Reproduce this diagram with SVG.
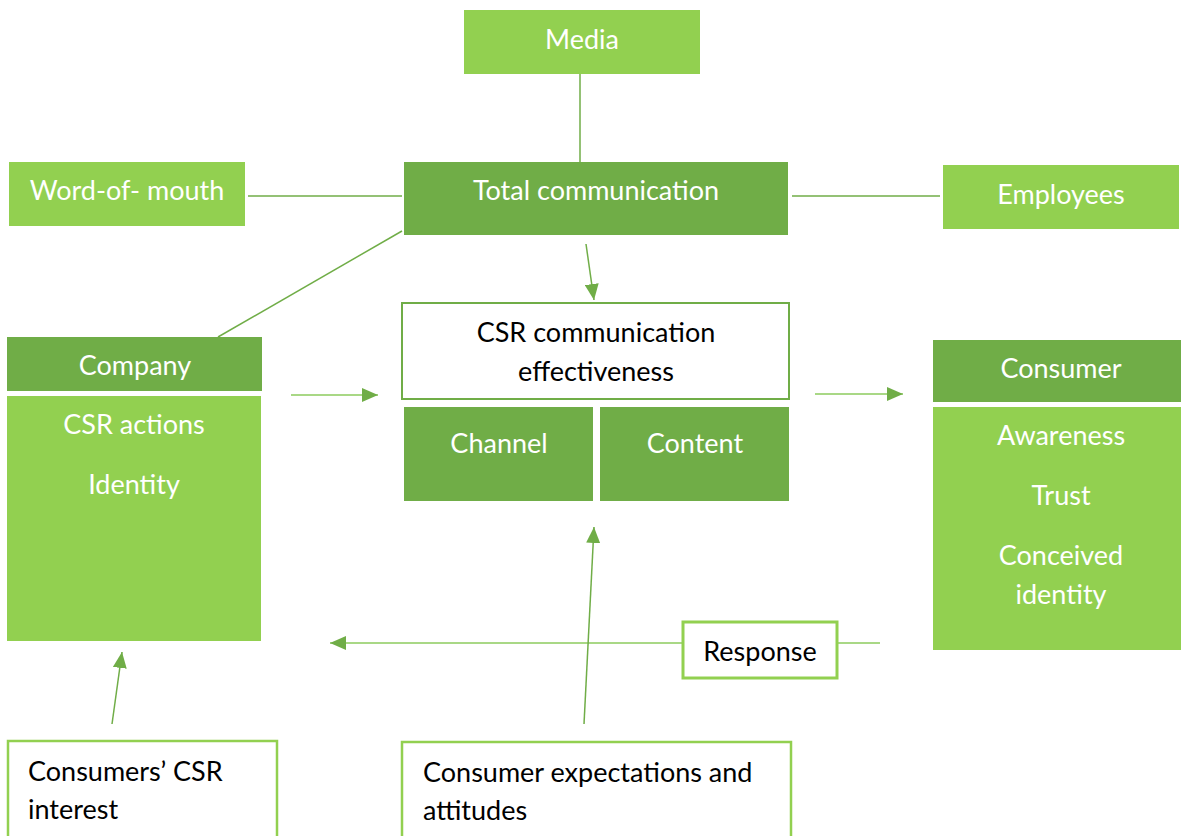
<svg xmlns="http://www.w3.org/2000/svg" width="1181" height="836" viewBox="0 0 1181 836">
  <style>
    .dark { fill: #70AD47; }
    .light { fill: #92D050; }
    .wt { fill: #FFFFFF; font-family: Lato, "Open Sans", sans-serif; font-size: 27px; text-anchor: middle; }
    .bk { fill: #000000; font-family: Lato, "Open Sans", sans-serif; font-size: 27px; }
    .bkc { text-anchor: middle; }
    .line { stroke: #70AD47; stroke-width: 1.5; fill: none; }
    .lline { stroke: #8CCB5E; stroke-width: 1.5; fill: none; }
  </style>
  <defs>
    <marker id="arr" viewBox="0 0 16 14" refX="16" refY="7" markerWidth="16" markerHeight="14" markerUnits="userSpaceOnUse" orient="auto">
      <path d="M0,0 L16,7 L0,14 Z" fill="#70AD47"/>
    </marker>
  </defs>
  <rect width="1181" height="836" fill="#FFFFFF"/>

  <!-- connectors -->
  <g id="connectors">
    <line class="line" x1="580" y1="74" x2="580" y2="162"/>
    <line class="line" x1="248" y1="196" x2="402" y2="196"/>
    <line class="line" x1="792" y1="196" x2="940" y2="196"/>
    <line class="line" x1="402" y1="231" x2="218" y2="337"/>
    <line class="line" x1="586" y1="244" x2="594" y2="300" marker-end="url(#arr)"/>
    <line class="lline" x1="291" y1="395" x2="378" y2="395" marker-end="url(#arr)"/>
    <line class="lline" x1="815" y1="394" x2="903" y2="394" marker-end="url(#arr)"/>
    <line class="lline" x1="880" y1="643" x2="838" y2="643"/>
    <line class="lline" x1="682" y1="643" x2="330" y2="643" marker-end="url(#arr)"/>
    <line class="line" x1="584" y1="724" x2="594" y2="527" marker-end="url(#arr)"/>
    <line class="line" x1="112" y1="724" x2="122" y2="652" marker-end="url(#arr)"/>
  </g>

  <g id="media">
    <rect class="light" x="464" y="10" width="236" height="64"/>
    <text class="wt" x="582" y="49">Media</text>
  </g>

  <g id="word-of-mouth">
    <rect class="light" x="9" y="162" width="236" height="64"/>
    <text class="wt" x="127" y="200">Word-of- mouth</text>
  </g>

  <g id="total-communication">
    <rect class="dark" x="404" y="162" width="384" height="73"/>
    <text class="wt" x="596" y="200">Total communication</text>
  </g>

  <g id="employees">
    <rect class="light" x="943" y="165" width="236" height="64"/>
    <text class="wt" x="1061" y="204">Employees</text>
  </g>

  <g id="csr-effectiveness">
    <rect x="402" y="303" width="387" height="96" fill="#FFFFFF" stroke="#70AD47" stroke-width="2"/>
    <text class="bk bkc" x="596" y="342">CSR communication</text>
    <text class="bk bkc" x="596" y="381">effectiveness</text>
  </g>

  <g id="channel">
    <rect class="dark" x="404" y="407" width="189" height="94"/>
    <text class="wt" x="499" y="453">Channel</text>
  </g>

  <g id="content">
    <rect class="dark" x="600" y="407" width="189" height="94"/>
    <text class="wt" x="695" y="453">Content</text>
  </g>

  <g id="company">
    <rect class="dark" x="7" y="337" width="255" height="54"/>
    <text class="wt" x="135" y="375">Company</text>
    <rect class="light" x="7" y="396" width="254" height="245"/>
    <text class="wt" x="134" y="434">CSR actions</text>
    <text class="wt" x="134" y="494">Identity</text>
  </g>

  <g id="consumer">
    <rect class="dark" x="933" y="340" width="248" height="62"/>
    <text class="wt" x="1061" y="378">Consumer</text>
    <rect class="light" x="933" y="407" width="248" height="243"/>
    <text class="wt" x="1061" y="445">Awareness</text>
    <text class="wt" x="1061" y="505">Trust</text>
    <text class="wt" x="1061" y="565">Conceived</text>
    <text class="wt" x="1061" y="604">identity</text>
  </g>

  <g id="response">
    <rect x="683" y="622" width="154" height="56" fill="#FFFFFF" stroke="#92D050" stroke-width="3"/>
    <text class="bk bkc" x="760" y="661">Response</text>
  </g>

  <g id="consumers-csr-interest">
    <rect x="8" y="741" width="269" height="100" fill="#FFFFFF" stroke="#92D050" stroke-width="2.5"/>
    <text class="bk" x="28" y="781">Consumers’ CSR</text>
    <text class="bk" x="28" y="819">interest</text>
  </g>

  <g id="consumer-expectations">
    <rect x="402" y="742" width="389" height="100" fill="#FFFFFF" stroke="#92D050" stroke-width="2.5"/>
    <text class="bk" x="423" y="782">Consumer expectations and</text>
    <text class="bk" x="423" y="820">attitudes</text>
  </g>
</svg>
